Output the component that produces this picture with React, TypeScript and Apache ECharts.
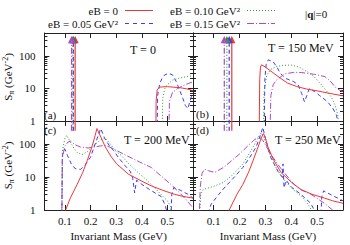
import React, { useEffect, useRef } from 'react';
import * as echarts from 'echarts';

const FONT = "'Liberation Serif', 'DejaVu Serif', serif";

const eBNames = ['eB = 0', 'eB = 0.05 GeV²', 'eB = 0.10 GeV²', 'eB = 0.15 GeV²'];
const colors = ['#f03535', '#3a3aff', '#2e9a2e', '#b048c0'];
const dashes: any[] = ['solid', [4, 3], [1, 2], [6, 2, 1, 2]];
// legend line samples (same dash styles, drawn as small filled bars)
const legendIcons = [
  'path://M0,0h28v1h-28z',
  'path://M0,0h4v1h-4zM8,0h4v1h-4zM16,0h4v1h-4zM24,0h4v1h-4z',
  'path://M0,0h1v1h-1zM3,0h1v1h-1zM6,0h1v1h-1zM9,0h1v1h-1zM12,0h1v1h-1zM15,0h1v1h-1zM18,0h1v1h-1zM21,0h1v1h-1zM24,0h1v1h-1zM27,0h1v1h-1z',
  'path://M0,0h7v1h-7zM9,0h1v1h-1zM12,0h7v1h-7zM21,0h1v1h-1zM24,0h4v1h-4z',
];
const temps = ['T = 0', 'T = 150 MeV', 'T = 200 MeV', 'T = 250 MeV'];
const panelTags = ['(a)', '(b)', '(c)', '(d)'];
const xTicks = [0.1, 0.2, 0.3, 0.4, 0.5];
const yMajor = [1, 10, 100];
const yMinor = [2, 3, 4, 5, 6, 7, 8, 9, 20, 30, 40, 50, 60, 70, 80, 90, 200, 300, 400];

// pole (delta) positions, order: eB = 0, 0.05, 0.10, 0.15
const spikesA = [0.140, 0.133, 0.131, 0.126];
const spikesB = [0.170, 0.160, 0.151, 0.141];
const spikeTop = 300;

// Panel (a) T = 0
const redA = [[0.455, 0.5], [0.456, 4], [0.46, 9], [0.47, 11], [0.5, 11.3], [0.55, 10.5], [0.58, 9.5], [0.6, 8.5]];
const blueA = [[0.46, 0.5], [0.462, 6], [0.47, 14], [0.48, 21], [0.49, 26], [0.505, 29], [0.52, 26], [0.535, 16], [0.55, 8], [0.56, 5], [0.57, 3], [0.58, 2.4], [0.588, 4], [0.595, 6], [0.6, 7]];
const greenA = [[0.48, 0.5], [0.482, 5], [0.49, 10], [0.5, 13], [0.52, 18], [0.55, 21], [0.58, 23.5], [0.6, 24]];
const magentaA = [[0.506, 0.5], [0.508, 4], [0.52, 7.5], [0.54, 10], [0.57, 13], [0.6, 16]];

// Panel (b) T = 150 MeV
const redB = [[0.276, 0.5], [0.278, 20], [0.281, 45], [0.285, 53], [0.3, 45], [0.33, 30], [0.36, 20], [0.386, 14.5], [0.42, 11.5], [0.46, 9.5], [0.5, 8.4], [0.55, 7], [0.6, 5.9]];
const blueB = [[0.295, 0.5], [0.298, 20], [0.303, 55], [0.311, 75], [0.33, 65], [0.345, 45], [0.357, 29], [0.38, 20], [0.41, 16], [0.426, 13], [0.44, 7], [0.451, 3.9], [0.46, 6], [0.47, 10], [0.49, 8], [0.51, 6], [0.54, 3.9], [0.56, 2.5], [0.575, 1.5], [0.585, 0.5]];
const greenB = [[0.292, 0.5], [0.295, 8], [0.305, 25], [0.32, 38], [0.343, 47], [0.37, 51], [0.4, 52], [0.43, 45], [0.46, 33], [0.488, 23], [0.52, 12], [0.554, 5.6], [0.57, 3], [0.58, 1.5], [0.585, 0.5]];
const magentaB = [[0.318, 0.5], [0.321, 6], [0.33, 13], [0.343, 18], [0.375, 28], [0.41, 31], [0.44, 30.6], [0.49, 27], [0.53, 23], [0.55, 17], [0.57, 11], [0.585, 9], [0.6, 8]];

// Panel (c) T = 200 MeV
const redC = [[0.098, 0.5], [0.103, 1], [0.12, 2.2], [0.148, 6], [0.17, 14], [0.187, 31], [0.205, 80], [0.218, 180], [0.225, 295], [0.235, 200], [0.258, 81], [0.28, 42], [0.302, 25], [0.348, 12.2], [0.4, 7.5], [0.437, 5.4], [0.48, 4], [0.527, 3], [0.56, 2.6], [0.6, 2.3]];
const blueC = [[0.088, 0.5], [0.09, 30], [0.092, 60], [0.1, 70], [0.11, 45], [0.125, 25], [0.14, 18], [0.161, 17], [0.18, 24], [0.2, 40], [0.22, 110], [0.24, 295], [0.255, 150], [0.275, 85], [0.29, 64], [0.31, 38], [0.335, 22], [0.355, 15], [0.365, 9], [0.372, 3.3], [0.38, 8], [0.4, 6], [0.43, 4.2], [0.46, 3], [0.475, 2.6], [0.49, 1.5], [0.5, 0.8], [0.515, 0.8], [0.517, 3], [0.525, 4.8], [0.55, 4], [0.58, 3], [0.6, 2.3]];
const greenC = [[0.088, 0.5], [0.09, 60], [0.1, 150], [0.107, 185], [0.12, 120], [0.135, 75], [0.148, 55], [0.167, 48], [0.19, 60], [0.213, 91], [0.24, 135], [0.258, 150], [0.275, 105], [0.296, 64], [0.32, 45], [0.35, 25], [0.385, 13.8], [0.42, 8], [0.45, 4.7], [0.48, 2.7], [0.5, 1.9], [0.512, 1.3], [0.52, 0.5]];
const magentaC = [[0.088, 0.5], [0.09, 40], [0.1, 85], [0.112, 115], [0.122, 123], [0.14, 95], [0.161, 81], [0.19, 76], [0.212, 80], [0.24, 88], [0.258, 90], [0.28, 78], [0.305, 62], [0.34, 45], [0.39, 29], [0.437, 19.5], [0.48, 10], [0.513, 6], [0.55, 3.2], [0.58, 1.8], [0.6, 1.15]];

// Panel (d) T = 250 MeV
const redD = [[0.155, 0.5], [0.16, 1], [0.19, 3], [0.213, 6], [0.235, 14], [0.252, 31], [0.27, 75], [0.285, 160], [0.293, 208], [0.3, 150], [0.31, 81], [0.33, 35], [0.36, 13.8], [0.4, 7], [0.437, 4.2], [0.48, 3], [0.528, 2.3], [0.56, 1.9], [0.6, 1.6]];
const blueD = [[0.07, 0.5], [0.09, 1.5], [0.12, 3], [0.148, 5.4], [0.18, 10], [0.213, 19.6], [0.24, 40], [0.264, 81], [0.28, 180], [0.29, 320], [0.3, 150], [0.32, 40], [0.35, 14], [0.365, 10], [0.368, 25], [0.372, 4.7], [0.38, 8], [0.4, 5], [0.437, 3], [0.475, 1.6], [0.495, 0.8], [0.515, 0.8], [0.518, 2.5], [0.525, 3.8], [0.55, 3], [0.6, 1.9]];
const greenD = [[0.044, 0.5], [0.05, 3], [0.06, 4.2], [0.1, 5.2], [0.137, 6.8], [0.17, 11], [0.213, 25], [0.24, 55], [0.264, 120], [0.284, 220], [0.295, 150], [0.31, 64], [0.34, 20], [0.375, 7.6], [0.41, 4], [0.44, 2.6], [0.465, 1.5], [0.485, 0.8]];
const magentaD = [[0.044, 0.5], [0.048, 5], [0.055, 13], [0.065, 17.4], [0.08, 15.5], [0.104, 13.8], [0.14, 20], [0.2, 50], [0.23, 85], [0.255, 130], [0.275, 170], [0.29, 130], [0.3, 95], [0.32, 50], [0.36, 18], [0.41, 6], [0.44, 4], [0.476, 3], [0.528, 1.6], [0.56, 1], [0.57, 0.6]];

const curves = [
  [redA, blueA, greenA, magentaA],
  [redB, blueB, greenB, magentaB],
  [redC, blueC, greenC, magentaC],
  [redD, blueD, greenD, magentaD],
];
const spikes = [spikesA, spikesB];

const grids = [
  { left: 42, top: 33, width: 151, height: 88 },
  { left: 193, top: 33, width: 150, height: 88 },
  { left: 42, top: 121, width: 151, height: 89 },
  { left: 193, top: 121, width: 150, height: 89 },
];

const AX = '#222';
const TXT = '#111';

function buildOption() {
  const xAxis: any[] = [];
  const yAxis: any[] = [];
  const series: any[] = [];
  for (let p = 0; p < 4; p++) {
    const bottomRow = p >= 2;
    const leftCol = p % 2 === 0;
    ['bottom', 'top'].forEach((pos) => {
      const isBottom = pos === 'bottom';
      xAxis.push({
        type: 'value', gridIndex: p, min: 0.02, max: 0.6, position: pos,
        axisLine: { show: true, onZero: false, lineStyle: { color: AX, width: 1 } },
        axisTick: { show: true, inside: true, length: 5, customValues: xTicks, lineStyle: { color: AX } },
        axisLabel: {
          show: isBottom && bottomRow, customValues: xTicks, margin: 5,
          fontFamily: FONT, fontSize: 11, color: TXT, formatter: (v: number) => String(v),
        },
        splitLine: { show: false },
        name: isBottom && bottomRow ? 'Invariant Mass (GeV)' : '',
        nameLocation: 'middle', nameGap: 20,
        nameTextStyle: { fontFamily: FONT, fontSize: 11, color: TXT },
      });
    });
    ['left', 'right'].forEach((pos) => {
      const isLeft = pos === 'left';
      yAxis.push({
        type: 'log', logBase: 10, gridIndex: p, min: 1, max: 500, position: pos,
        axisLine: { show: true, onZero: false, lineStyle: { color: AX, width: 1 } },
        axisTick: { show: true, inside: true, length: 5, customValues: yMajor, lineStyle: { color: AX } },
        axisLabel: {
          show: isLeft && leftCol, customValues: yMajor, margin: 9,
          fontFamily: FONT, fontSize: 11, color: TXT,
        },
        minorTick: { show: false },
        splitLine: { show: false },
        name: isLeft && leftCol ? 'S{sub|π} (GeV{sup|-2})' : '',
        nameLocation: 'middle', nameGap: 22,
        nameTextStyle: {
          fontFamily: FONT, fontSize: 11, color: TXT,
          rich: {
            sub: { fontFamily: FONT, fontSize: 8, color: TXT, verticalAlign: 'bottom', lineHeight: 14 },
            sup: { fontFamily: FONT, fontSize: 8, color: TXT, verticalAlign: 'top', lineHeight: 14 },
          },
        },
      });
      yAxis.push({
        type: 'log', logBase: 10, gridIndex: p, min: 1, max: 500, position: pos,
        axisLine: { show: false, onZero: false },
        axisTick: { show: true, inside: true, length: 3, customValues: yMinor, lineStyle: { color: AX } },
        axisLabel: { show: false },
        minorTick: { show: false },
        splitLine: { show: false },
      });
    });
    for (let k = 0; k < 4; k++) {
      series.push({
        type: 'line', name: eBNames[k], xAxisIndex: 2 * p, yAxisIndex: 4 * p,
        data: curves[p][k], symbol: 'none', clip: true, silent: true,
        lineStyle: { color: colors[k], width: 1, type: dashes[k] },
        itemStyle: { color: colors[k] },
        z: k === 0 ? 4 : 3,
      });
    }
    if (p < 2) {
      for (let k = 0; k < 4; k++) {
        const x = spikes[p][k];
        series.push({
          type: 'line', name: 'pole' + p + k, xAxisIndex: 2 * p, yAxisIndex: 4 * p,
          data: [{ value: [x, 0.5], symbol: 'none' }, { value: [x, spikeTop] }],
          symbol: 'emptyTriangle', symbolSize: 4, clip: false, silent: true,
          lineStyle: { color: colors[k], width: 1.2, type: dashes[k] },
          itemStyle: { color: colors[k], borderColor: colors[k], borderWidth: 1 },
          z: 3,
        });
      }
    }
  }

  const legend = eBNames.map((n, k) => ({
    data: [{ name: n, icon: legendIcons[k] }], right: k < 2 ? 197 : 75, top: k % 2 === 0 ? 5 : 18,
    align: 'right', orient: 'horizontal', itemWidth: 28, itemHeight: 1, itemGap: 0, padding: 0,
    selectedMode: false,
    itemStyle: { color: colors[k], borderWidth: 0, opacity: 1 },
    textStyle: { fontFamily: FONT, fontSize: 11, color: TXT, padding: [0, 2, 0, 0] },
  }));

  const txt = (text: string, x: number, y: number, size = 11, extra: any = {}) => ({
    type: 'text', x, y,
    style: { text, fontFamily: FONT, fontSize: size, fill: TXT, textVerticalAlign: 'middle', ...extra },
    silent: true,
  });

  const graphic = [
    txt(temps[0], 130, 50, 12),
    txt(temps[1], 268, 48, 12),
    txt(temps[2], 124, 140, 12),
    txt(temps[3], 275, 140, 12),
    txt(panelTags[0], 44, 115),
    txt(panelTags[1], 196, 114),
    txt(panelTags[2], 44, 130),
    txt(panelTags[3], 196, 130),
    {
      type: 'text', x: 305, y: 14, silent: true,
      style: {
        text: '|{b|q}|=0', fontFamily: FONT, fontSize: 11, fill: TXT, textVerticalAlign: 'middle',
        rich: { b: { fontFamily: FONT, fontSize: 11, fontWeight: 'bold', color: TXT } },
      },
    },
  ];

  return {
    animation: false,
    backgroundColor: '#fff',
    grid: grids.map((g) => ({ ...g, containLabel: false })),
    xAxis, yAxis, series, legend, graphic,
  };
}

export default function App() {
  const ref = useRef<HTMLDivElement>(null);
  useEffect(() => {
    if (!ref.current) return;
    const chart = echarts.init(ref.current, null, { renderer: 'svg' });
    chart.setOption(buildOption() as any);
    return () => chart.dispose();
  }, []);
  return <div ref={ref} style={{ width: 350, height: 245, position: 'absolute', left: 0, top: 0 }} />;
}
